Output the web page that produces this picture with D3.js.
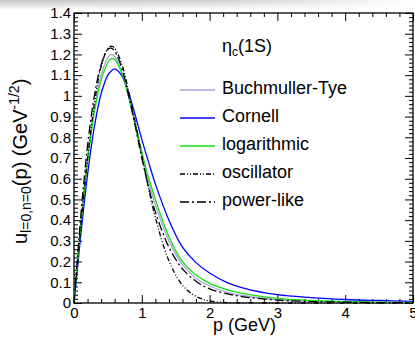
<!DOCTYPE html>
<html>
<head>
<meta charset="utf-8">
<script src="https://cdn.jsdelivr.net/npm/d3@7"></script>
<style>
    body { margin: 0; background: #fff; }
    svg { display: block; font-family: "Liberation Sans", Arial, sans-serif; }
</style>
</head>
<body>
<svg id="chart" width="415" height="339"></svg>
<script>
// momentum grid (GeV) shared by all curves
let momenta = [0, 0.05, 0.1, 0.15, 0.2, 0.3, 0.4, 0.5, 0.55, 0.6, 0.7, 0.8, 0.9, 1.0, 1.1, 1.2,
               1.4, 1.6, 1.8, 2.0, 2.25, 2.5, 3.0, 3.5, 4.0, 4.5, 5.0];

// u(p) for each potential model
let buchmullerTye = [0, 0.19, 0.38, 0.55, 0.70, 0.94, 1.10, 1.185, 1.20, 1.19, 1.12, 1.00, 0.86, 0.715, 0.585, 0.475,
                     0.30, 0.185, 0.12, 0.082, 0.053, 0.035, 0.016, 0.008, 0.005, 0.003, 0.002];
let cornell = [0, 0.165, 0.33, 0.48, 0.62, 0.85, 1.01, 1.10, 1.12, 1.13, 1.10, 1.02, 0.91, 0.79, 0.68, 0.575,
               0.40, 0.27, 0.195, 0.145, 0.10, 0.072, 0.04, 0.026, 0.017, 0.012, 0.008];
let logarithmic = [0, 0.185, 0.37, 0.53, 0.68, 0.92, 1.075, 1.16, 1.18, 1.175, 1.115, 1.005, 0.875, 0.73, 0.605, 0.50,
                   0.32, 0.20, 0.135, 0.095, 0.065, 0.045, 0.022, 0.012, 0.007, 0.004, 0.003];
let oscillator = [0, 0.185, 0.366, 0.537, 0.696, 0.961, 1.141, 1.230, 1.240, 1.230, 1.158, 1.032, 0.877, 0.712, 0.554, 0.413,
                  0.204, 0.086, 0.032, 0.010, 0.002, 0.0005, 0, 0, 0, 0, 0];
let powerLike = [0, 0.215, 0.42, 0.60, 0.76, 1.00, 1.15, 1.225, 1.23, 1.215, 1.14, 1.01, 0.86, 0.70, 0.56, 0.44,
                 0.27, 0.165, 0.105, 0.068, 0.045, 0.030, 0.014, 0.007, 0.004, 0.002, 0.001];

let seriesNames = ["Buchmuller-Tye", "Cornell", "logarithmic", "oscillator", "power-like"];
let xTicks = [0, 1, 2, 3, 4, 5];
let yTicks = [0, 0.1, 0.2, 0.3, 0.4, 0.5, 0.6, 0.7, 0.8, 0.9, 1, 1.1, 1.2, 1.3, 1.4];

let series = [
    {name: seriesNames[0], values: buchmullerTye, color: "#a4a4dc", dash: null},
    {name: seriesNames[1], values: cornell, color: "#0000ff", dash: null},
    {name: seriesNames[2], values: logarithmic, color: "#12e012", dash: null},
    {name: seriesNames[3], values: oscillator, color: "#000", dash: "5,2,1,2,1,2"},
    {name: seriesNames[4], values: powerLike, color: "#000", dash: "9,3,2,3"}
];

let svg = d3.select("#chart");
let frame = {left: 74, right: 413, top: 13, bottom: 303};

// faint grey shadow across the top edge
let defs = svg.append("defs");
let vGrad = defs.append("linearGradient").attr("id", "vfade").attr("x1", 0).attr("y1", 0).attr("x2", 0).attr("y2", 1);
vGrad.append("stop").attr("offset", "0%").attr("stop-color", "#c4c4c4");
vGrad.append("stop").attr("offset", "100%").attr("stop-color", "#fff");
let hGrad = defs.append("linearGradient").attr("id", "hfade");
hGrad.append("stop").attr("offset", "0%").attr("stop-color", "#fff");
hGrad.append("stop").attr("offset", "55%").attr("stop-color", "#fff").attr("stop-opacity", 0.8);
hGrad.append("stop").attr("offset", "100%").attr("stop-color", "#fff").attr("stop-opacity", 0);
defs.append("mask").attr("id", "hmask")
    .append("rect").attr("width", 415).attr("height", 10).attr("fill", "url(#hfade)");
svg.append("rect").attr("width", 415).attr("height", 10)
   .attr("fill", "url(#vfade)").attr("mask", "url(#hmask)");

let x = d3.scaleLinear().domain([0, 5]).range([frame.left, frame.right]);
let y = d3.scaleLinear().domain([0, 1.4]).range([frame.bottom, frame.top]);

let xMinor = d3.range(0, 5.001, 0.2).filter(function(v) { return Math.abs(v - Math.round(v)) > 1e-6; });
let yMinor = d3.range(0, 1.4001, 0.02).filter(function(v) { return Math.abs(v * 10 - Math.round(v * 10)) > 1e-6; });

function styleAxis(g) {
    g.select(".domain").remove();
    g.selectAll("line").attr("stroke", "#000").attr("stroke-width", 1);
    g.selectAll("text").attr("fill", "#000").attr("font-size", 15).attr("font-family", "Liberation Sans, Arial, sans-serif");
}

// ticks point into the frame on all four sides
svg.append("g").attr("transform", "translate(0," + frame.bottom + ")")
   .call(d3.axisBottom(x).tickValues(xTicks).tickSize(-8).tickPadding(4).tickFormat(d3.format("d"))).call(styleAxis);
svg.append("g").attr("transform", "translate(0," + frame.bottom + ")")
   .call(d3.axisBottom(x).tickValues(xMinor).tickSize(-4).tickFormat("")).call(styleAxis);
svg.append("g").attr("transform", "translate(0," + frame.top + ")")
   .call(d3.axisTop(x).tickValues(xTicks).tickSize(-8).tickFormat("")).call(styleAxis);
svg.append("g").attr("transform", "translate(0," + frame.top + ")")
   .call(d3.axisTop(x).tickValues(xMinor).tickSize(-4).tickFormat("")).call(styleAxis);

svg.append("g").attr("transform", "translate(" + frame.left + ",0)")
   .call(d3.axisLeft(y).tickValues(yTicks).tickSize(-8).tickPadding(3)
           .tickFormat(function(d) { return String(+d.toFixed(1)); })).call(styleAxis);
svg.append("g").attr("transform", "translate(" + frame.left + ",0)")
   .call(d3.axisLeft(y).tickValues(yMinor).tickSize(-4).tickFormat("")).call(styleAxis);
svg.append("g").attr("transform", "translate(" + frame.right + ",0)")
   .call(d3.axisRight(y).tickValues(yTicks).tickSize(-8).tickFormat("")).call(styleAxis);
svg.append("g").attr("transform", "translate(" + frame.right + ",0)")
   .call(d3.axisRight(y).tickValues(yMinor).tickSize(-4).tickFormat("")).call(styleAxis);

svg.append("rect")
   .attr("x", frame.left).attr("y", frame.top)
   .attr("width", frame.right - frame.left).attr("height", frame.bottom - frame.top)
   .attr("fill", "none").attr("stroke", "#000").attr("stroke-width", 1.3);

// curves
let line = d3.line()
    .x(function(d) { return x(d[0]); })
    .y(function(d) { return y(d[1]); })
    .curve(d3.curveCatmullRom.alpha(0.5));

svg.append("g").selectAll("path")
   .data(series)
   .enter().append("path")
   .attr("d", function(s) { return line(momenta.map(function(p, i) { return [p, s.values[i]]; })); })
   .attr("fill", "none")
   .attr("stroke", function(s) { return s.color; })
   .attr("stroke-width", 1.3)
   .attr("stroke-dasharray", function(s) { return s.dash; });

// legend
let legend = svg.append("g").attr("font-size", 18).attr("fill", "#000");
let eta = legend.append("text").attr("x", 222).attr("y", 52);
eta.append("tspan").text("η");
eta.append("tspan").attr("font-size", 12).attr("dy", 4).text("c");
eta.append("tspan").attr("dy", -4).text("(1S)");

let rows = legend.selectAll("g.row")
    .data(series)
    .enter().append("g")
    .attr("class", "row")
    .attr("transform", function(d, i) { return "translate(0," + (94 + i * 28) + ")"; });
rows.append("line")
    .attr("x1", 180).attr("x2", 215).attr("y1", -4).attr("y2", -4)
    .attr("stroke", function(s) { return s.color; })
    .attr("stroke-width", 1.3)
    .attr("stroke-dasharray", function(s) { return s.dash; });
rows.append("text").attr("x", 222).text(function(s) { return s.name; });

// axis titles
svg.append("text").attr("x", 276).attr("y", 331).attr("text-anchor", "end")
   .attr("font-size", 18).text("p (GeV)");

let yTitle = svg.append("text").attr("transform", "translate(27,244) rotate(-90)").attr("font-size", 20);
yTitle.append("tspan").text("u");
yTitle.append("tspan").attr("font-size", 14).attr("dy", 4).text("l=0,n=0");
yTitle.append("tspan").attr("dy", -4).text("(p) (GeV");
yTitle.append("tspan").attr("font-size", 14).attr("dy", -8).text("-1/2");
yTitle.append("tspan").attr("dy", 8).text(")");
</script>
</body>
</html>
